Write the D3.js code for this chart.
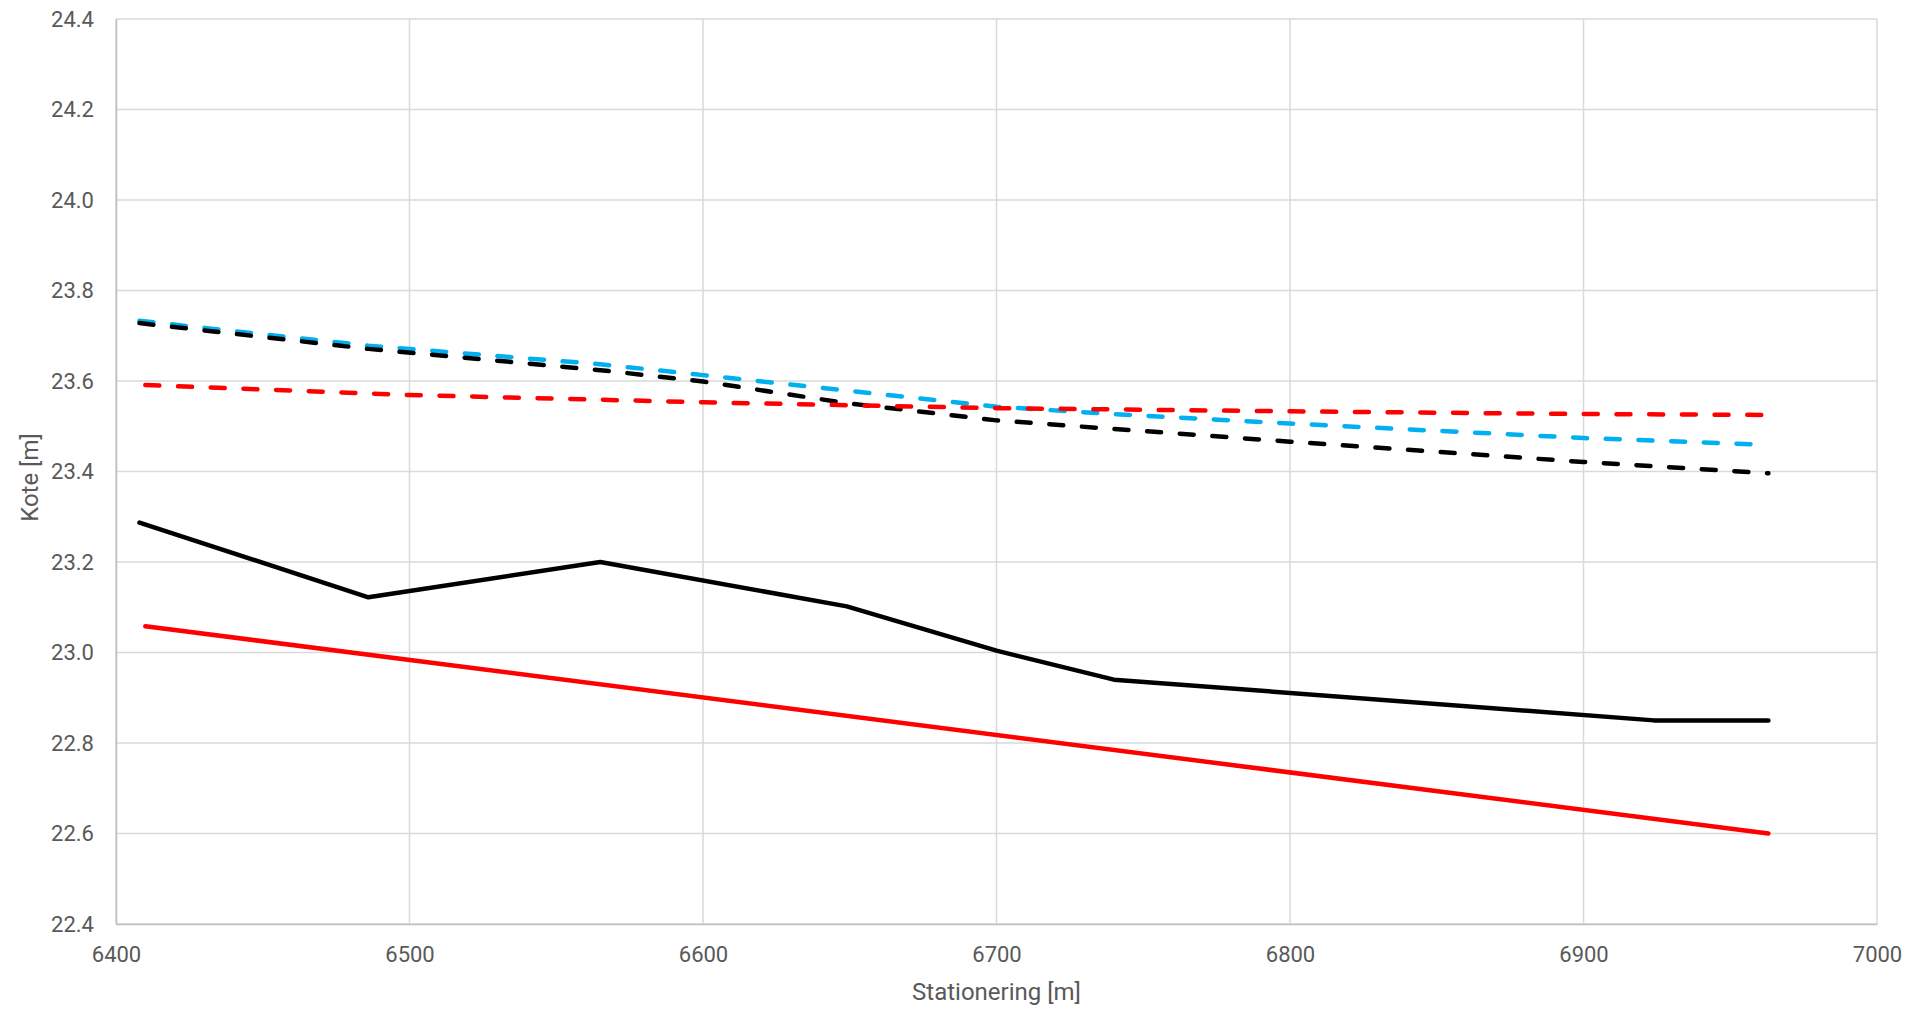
<!DOCTYPE html>
<html>
<head>
<meta charset="utf-8">
<script src="https://cdn.jsdelivr.net/npm/d3@7"></script>
<style>
  body { margin: 0; background: #fff; }
  text { font-family: Roboto, "DejaVu Sans", sans-serif; fill: #595959; }
</style>
</head>
<body>
<script>
// stationering [m] og kote [m] for hver serie
var bundX = [6408, 6486, 6565, 6649, 6700, 6740, 6924, 6963];
var bundZ = [23.287, 23.122, 23.200, 23.102, 23.004, 22.940, 22.850, 22.850];

var projX = [6410, 6963];
var projZ = [23.058, 22.600];

var blaaX = [6408, 6486, 6565, 6600, 6649, 6700, 6740, 6800, 6900, 6963];
var blaaZ = [23.733, 23.678, 23.637, 23.613, 23.579, 23.543, 23.527, 23.506, 23.474, 23.459];

var sortX = [6408, 6486, 6565, 6600, 6649, 6700, 6740, 6800, 6900, 6963];
var sortZ = [23.728, 23.671, 23.624, 23.599, 23.551, 23.513, 23.494, 23.466, 23.421, 23.396];

var roedX = [6410, 6500, 6600, 6700, 6800, 6900, 6962];
var roedZ = [23.591, 23.569, 23.553, 23.540, 23.533, 23.527, 23.525];

var xTicks = [6400, 6500, 6600, 6700, 6800, 6900, 7000];
var yTicks = [22.4, 22.6, 22.8, 23.0, 23.2, 23.4, 23.6, 23.8, 24.0, 24.2, 24.4];

var W = 1923, H = 1013;
var margin = {top: 19, right: 46, bottom: 89, left: 116};

var x = d3.scaleLinear().domain([6400, 7000]).range([margin.left, W - margin.right]);
var y = d3.scaleLinear().domain([22.4, 24.4]).range([H - margin.bottom, margin.top]);

var svg = d3.select("body").append("svg")
    .attr("width", W)
    .attr("height", H);

// gitter
svg.append("g")
    .selectAll("line.h")
    .data(yTicks)
    .enter().append("line")
        .attr("x1", x(6400)).attr("x2", x(7000))
        .attr("y1", function(d) { return y(d); })
        .attr("y2", function(d) { return y(d); })
        .attr("stroke", "#d9d9d9")
        .attr("stroke-width", 1.5);

svg.append("g")
    .selectAll("line.v")
    .data(xTicks)
    .enter().append("line")
        .attr("x1", function(d) { return x(d); })
        .attr("x2", function(d) { return x(d); })
        .attr("y1", y(22.4)).attr("y2", y(24.4))
        .attr("stroke", "#d9d9d9")
        .attr("stroke-width", 1.5);

// akser
var xAxis = d3.axisBottom(x).tickValues(xTicks).tickSize(0).tickPadding(22)
    .tickFormat(d3.format("d"));
var yAxis = d3.axisLeft(y).tickValues(yTicks).tickSize(0).tickPadding(22)
    .tickFormat(d3.format(".1f"));

var gx = svg.append("g")
    .attr("transform", "translate(0," + y(22.4) + ")")
    .call(xAxis);
gx.select(".domain").attr("stroke", "#bfbfbf").attr("stroke-width", 1.5);
gx.selectAll("text").attr("font-size", 22).attr("fill", "#595959")
    .attr("font-family", "Roboto, sans-serif");

var gy = svg.append("g")
    .attr("transform", "translate(" + x(6400) + ",0)")
    .call(yAxis);
gy.select(".domain").attr("stroke", "#bfbfbf").attr("stroke-width", 1.5);
gy.selectAll("text").attr("font-size", 22).attr("fill", "#595959")
    .attr("font-family", "Roboto, sans-serif");

// serier
var line = d3.line()
    .x(function(d) { return x(d[0]); })
    .y(function(d) { return y(d[1]); });

function serie(xs, zs, color, dashed) {
    var p = svg.append("path")
        .attr("fill", "none")
        .attr("stroke", color)
        .attr("stroke-width", 4.5)
        .attr("stroke-linejoin", "round")
        .attr("stroke-linecap", "round")
        .attr("d", line(d3.zip(xs, zs)));
    if (dashed) p.attr("stroke-dasharray", "14,18.7");
}

serie(bundX, bundZ, "#000000", false);
serie(projX, projZ, "#ff0000", false);
serie(blaaX, blaaZ, "#00b0f0", true);
serie(sortX, sortZ, "#000000", true);
serie(roedX, roedZ, "#ff0000", true);

// aksetitler
svg.append("text")
    .attr("x", (x(6400) + x(7000)) / 2)
    .attr("y", 1000)
    .attr("text-anchor", "middle")
    .attr("font-size", 24)
    .text("Stationering [m]");

svg.append("text")
    .attr("transform", "translate(38," + ((y(22.4) + y(24.4)) / 2 + 6) + ") rotate(-90)")
    .attr("text-anchor", "middle")
    .attr("font-size", 24)
    .text("Kote [m]");
</script>
</body>
</html>
